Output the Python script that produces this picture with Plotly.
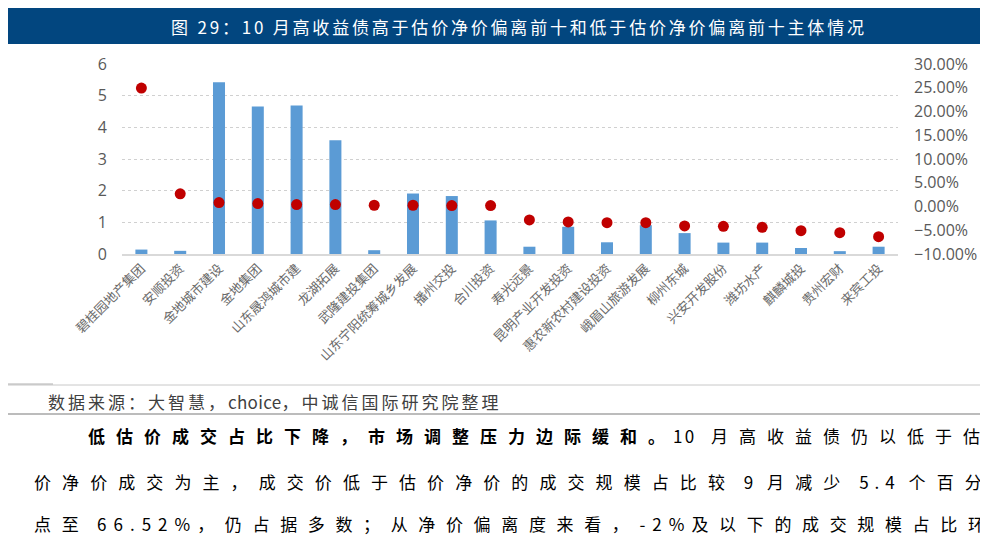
import plotly.graph_objects as go

# ---------------- data ----------------
names = ["碧桂园地产集团", "安顺投资", "金地城市建设", "金地集团", "山东晟鸿城市建",
         "龙湖拓展", "武隆建投集团", "山东宁阳统筹城乡发展", "播州交投", "合川投资",
         "寿光远景", "昆明产业开发投资", "惠农新农村建设投资", "峨眉山旅游发展", "柳州东城",
         "兴安开发股份", "潍坊水产", "麒麟城投", "贵州宏财", "来宾工投"]
volume = [0.14, 0.10, 5.42, 4.66, 4.69, 3.59, 0.12, 1.91, 1.83, 1.06,
          0.23, 0.86, 0.37, 0.91, 0.66, 0.36, 0.36, 0.19, 0.09, 0.23]
deviation = [0.2494, 0.0266, 0.0082, 0.0061, 0.0040, 0.0040, 0.0026, 0.0026, 0.0019, 0.0019,
             -0.0283, -0.0325, -0.0340, -0.0340, -0.0410, -0.0417, -0.0438, -0.0508, -0.0550, -0.0635]
left_ticks = [0, 1, 2, 3, 4, 5, 6]
right_ticks = [-0.10, -0.05, 0.0, 0.05, 0.10, 0.15, 0.20, 0.25, 0.30]

title_text = "图 29：10 月高收益债高于估价净价偏离前十和低于估价净价偏离前十主体情况"
source_text = "数据来源：大智慧，choice，中诚信国际研究院整理"
para_bold = "低估价成交占比下降，市场调整压力边际缓和。"
para_num = "10 "
para_rest = "月高收益债仍以低于估"
para_lines = ["价净价成交为主，成交价低于估价净价的成交规模占比较 9 月减少 5.4 个百分",
              "点至 66.52%，仍占据多数；从净价偏离度来看，-2%及以下的成交规模占比环"]

# ---------------- geometry (reference-image pixels) ----------------
OFF = 8                      # page body margin of the html page
FW, FH = 988 - OFF, 546 - OFF
L, R, T, B = 122, 898, 64, 254
PW, PH = R - L, B - T


def px(x):
    return (x - L) / PW


def py(y):
    return (B - y) / PH


CJK = "Noto Sans CJK SC"

fig = go.Figure()
fig.add_trace(go.Bar(x=names, y=volume, marker=dict(color="#5B9BD5", line=dict(width=0)),
                     yaxis="y", showlegend=False))
fig.add_trace(go.Scatter(x=names, y=deviation, mode="markers", yaxis="y2",
                         marker=dict(color="#C00000", size=11), showlegend=False))

shapes = [
    dict(type="rect", xref="paper", yref="paper", x0=px(8), x1=px(984), y0=py(44), y1=py(5),
         fillcolor="#02467F", line=dict(width=0), layer="below"),
    dict(type="line", xref="paper", yref="paper", x0=px(8), x1=px(980), y0=py(385), y1=py(385),
         line=dict(color="#C8C8C8", width=1)),
    dict(type="line", xref="paper", yref="paper", x0=px(8), x1=px(53), y0=py(384), y1=py(384),
         line=dict(color="#B0B0B0", width=1)),
    dict(type="line", xref="paper", yref="paper", x0=px(8), x1=px(980), y0=py(414), y1=py(414),
         line=dict(color="#A6A6A6", width=1.5)),
]


def sp(text, ls):
    return '<span style="letter-spacing:%.2fpx">%s</span>' % (ls, text)


def spaced(text, ls):
    # letter spacing on every character except the last one
    return sp(text[:-1], ls) + text[-1]


def justified(text, a, s, b):
    # a: spacing after CJK chars, s: after spaces, b: after latin chars
    def kind(c):
        if c == " ":
            return s
        return a if ord(c) > 0x2E80 else b
    out, run, cur = [], "", None
    for c in text[:-1]:
        k = kind(c)
        if cur is not None and k != cur:
            out.append(sp(run, cur))
            run = ""
        cur = k
        run += c
    if run:
        out.append(sp(run, cur))
    return "".join(out) + text[-1]


def ann(html, x, y, size, color):
    return dict(text=html, xref="paper", yref="paper", x=px(x), y=py(y),
                xanchor="left", yanchor="middle", showarrow=False, align="left",
                borderpad=0, font=dict(family=CJK, size=size, color=color))


line1 = ("<b>" + sp(para_bold[:-1], 11.0) + sp(para_bold[-1], 8.0) + "</b>"
         + sp(para_num[0], 2.2) + sp(para_num[1:], 6.6)
         + sp(para_rest[:-1], 11.0) + para_rest[-1])

annotations = [
    ann(spaced(title_text, 2.8), 170, 26, 17, "#FFFFFF"),
    ann(justified(source_text, 3.0, 3.0, 0.3), 47, 401, 17, "#404040"),
    ann(line1, 87, 435, 17, "#000000"),
    ann(justified(para_lines[0], 11.08, 4.0, 6.0), 33, 481, 17, "#000000"),
    ann(justified(para_lines[1], 10.64, 4.0, 7.0), 33, 523, 17, "#000000"),
]

fig.update_layout(
    width=FW, height=FH,
    margin=dict(l=L - OFF, r=988 - R, t=T - OFF, b=546 - B, autoexpand=False),
    paper_bgcolor="white", plot_bgcolor="white",
    bargap=0.69,
    showlegend=False,
    shapes=shapes,
    annotations=annotations,
    xaxis=dict(type="category", range=[-0.5, len(names) - 0.5], tickangle=-45,
               showgrid=False, showline=True, linecolor="#D9D9D9", linewidth=1.5,
               ticks="", automargin=False,
               tickfont=dict(family=CJK, size=13, color="#6A6A6A")),
    yaxis=dict(range=[0, 6], tickvals=left_ticks, showgrid=True, gridcolor="#D0D0D0",
               griddash="dot", gridwidth=1, zeroline=False, showline=False, ticks="",
               ticklabelstandoff=14, automargin=False,
               tickfont=dict(family="Open Sans", size=16, color="#595959")),
    yaxis2=dict(range=[-0.10, 0.30], tickvals=right_ticks, tickformat=".2%", overlaying="y",
                side="right", showgrid=False, zeroline=False, showline=False, ticks="",
                ticklabelstandoff=15, automargin=False,
                tickfont=dict(family="Open Sans", size=16, color="#595959")),
)

fig.write_html("out.html")
